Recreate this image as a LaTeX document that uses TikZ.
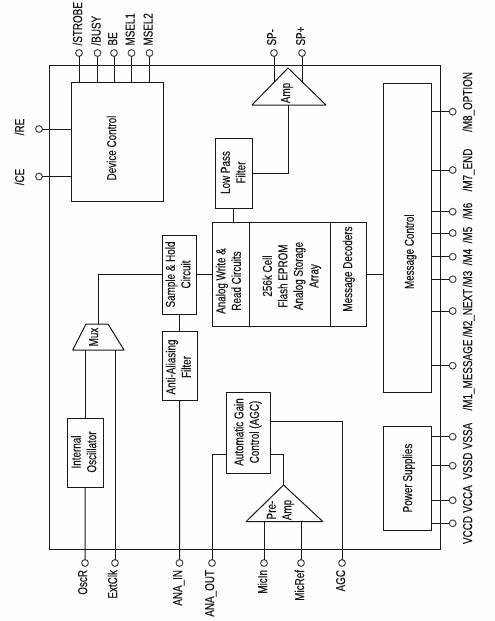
\documentclass[tikz,border=0pt]{standalone}
\usepackage{fontspec}
\setmainfont[FakeStretch=0.76,FakeBold=0.25]{Liberation Sans}
\definecolor{paper}{rgb}{0.996,0.996,0.98}
\definecolor{ink}{rgb}{0.1,0.1,0.1}
\tikzset{
  boxst/.style={draw=ink,line width=1pt,inner sep=0pt,outer sep=0pt,align=center},
  pin/.style={circle,draw=ink!80,line width=1pt,fill=paper,inner sep=0pt,minimum size=6.8pt,outer sep=0pt},
  wire/.style={draw=ink,line width=1pt},
  labelst/.style={inner sep=0pt,outer sep=0pt,text=ink},
}
\newcommand{\vtext}[1]{\rotatebox{90}{\fontsize{13}{15.5}\selectfont\begin{tabular}{@{}c@{}}#1\end{tabular}}}
\newcommand{\bx}[6][]{\node[boxst,minimum width={#4-#2},minimum height={#5-#3},#1] (#6) at ({(#2+#4)/2},{(#3+#5)/2}) {};}
\newcommand{\txt}[4]{\node[labelst] (#1) at (#2,#3) {\vtext{#4}};}
\newcommand{\pinat}[3]{\node[pin] (#1) at (#2,#3) {};}
\begin{document}
\begin{tikzpicture}[x=1pt,y=-1pt]
\useasboundingbox (0,0) rectangle (495,621);
\fill[paper] (0,0) rectangle (495,621);
% outer frame
\bx{49.5}{65}{440}{549}{frame}
% blocks
\bx{71}{82}{163}{201.5}{dc}
\bx{162}{235}{196}{314}{sh}
\bx{215}{138}{252}{208}{lpf}
\bx{212.5}{222.7}{366}{326.7}{array}
\coordinate (div1a) at (249.5,222.7); \coordinate (div1b) at (249.5,326.7);
\coordinate (div2a) at (330,222.7); \coordinate (div2b) at (330,326.7);
\draw[wire] (div1a) -- (div1b) (div2a) -- (div2b);
\bx{162}{331.5}{197.5}{400}{aa}
\bx{67.5}{418}{103}{487}{osc}
\bx{226}{392}{270}{473}{agc}
\bx{383}{83.5}{431.5}{392}{msg}
\bx{383}{426}{431.5}{530}{pwr}
% triangles and trapezoid
\coordinate (mt1) at (86,324); \coordinate (mt2) at (108,324); \coordinate (mb2) at (124,350); \coordinate (mb1) at (72.7,350);
\coordinate (mux) at (98,324);
\draw[wire,line join=round] (mt1) -- (mt2) -- (mb2) -- (mb1) -- cycle;
\coordinate (ampa) at (288,68); \coordinate (ampl) at (252,105); \coordinate (ampr) at (326,105);
\draw[wire,line join=round] (ampa) -- (ampr) -- (ampl) -- cycle;
\coordinate (pra) at (283.5,485); \coordinate (prl) at (246,521.7); \coordinate (prr) at (323,521.7);
\draw[wire,line join=round] (pra) -- (prr) -- (prl) -- cycle;
% pins top
\pinat{pstrobe}{79}{53}\pinat{pbusy}{97.5}{53}\pinat{pbe}{114}{53}\pinat{pm1}{131.5}{53}\pinat{pm2}{149.5}{53}
\pinat{pspm}{274}{53}\pinat{pspp}{302}{53}
\pinat{pre}{39}{129}\pinat{pce}{39}{176.5}
% pins bottom
\pinat{posc}{85}{563}\pinat{pext}{115}{563}\pinat{pain}{179.5}{563}\pinat{paout}{212}{563}
\pinat{pmic}{264}{563}\pinat{pref}{301}{563}\pinat{pagc}{342}{563}
% pins right
\pinat{p8}{452.7}{111.7}\pinat{p7}{452.7}{170}\pinat{p6}{452.7}{211.7}\pinat{p5}{452.7}{233}
\pinat{p4}{452.7}{256.7}\pinat{p3}{452.7}{279.3}\pinat{p2}{452.7}{311}\pinat{p1}{452.7}{365.7}
\pinat{vssa}{452.7}{436.7}\pinat{vssd}{452.7}{465.7}\pinat{vcca}{452.7}{500.3}\pinat{vccd}{452.7}{523.3}
% wires
\foreach \p in {pstrobe,pbusy,pbe,pm1,pm2} \draw[wire] (\p) -- (\p |- dc.north);
\foreach \p in {pre,pce} \draw[wire] (\p) -- (\p -| dc.west);
\foreach \p in {p8,p7,p6,p5,p4,p3,p2,p1} \draw[wire] (\p) -- (\p -| msg.east);
\foreach \p in {vssa,vssd,vcca,vccd} \draw[wire] (\p) -- (\p -| pwr.east);
\draw[wire] (pspm) -- (274,82.4);
\draw[wire] (pspp) -- (302,82.4);
\draw[wire] (ampa |- ampl) -- (ampa |- lpf.east) -- (lpf.east);
\draw[wire] (lpf.south) -- (lpf.south |- array.north);
\draw[wire] (sh.east) -- (sh.east -| array.west);
\draw[wire] (array.east) -- (array.east -| msg.west);
\draw[wire] (sh.west) -- (mux |- sh.west) -- (mux);
\draw[wire] (sh.south) -- (sh.south |- aa.north);
\draw[wire] (aa.south) -- (pain);
\draw[wire] (osc.north) -- (osc.north |- mb1);
\draw[wire] (osc.south) -- (posc);
\draw[wire] (pext) -- (pext |- mb1);
\coordinate (agcl) at (226,454); \coordinate (agcr) at (270,454); \coordinate (agco) at (270,421);
\draw[wire] (agcl) -- (agcl -| paout) -- (paout);
\draw[wire] (agcr) -- (agcr -| pra) -- (pra);
\draw[wire] (agco) -- (agco -| pagc) -- (pagc);
\draw[wire] (pmic) -- (pmic |- prl);
\draw[wire] (pref) -- (pref |- prl);
% block texts
\txt{tdc}{113}{148}{Device Control}
\txt{tsh}{179.5}{274.5}{Sample \& Hold\\Circuit}
\txt{tlpf}{234.5}{172.5}{Low Pass\\Filter}
\txt{trw}{230}{281}{Analog Write \&\\Read Circuits}
\txt{tarr}{292}{276}{256k Cell\\Flash EPROM\\Analog Storage\\Array}
\txt{tdec}{349}{269}{Message Decoders}
\txt{taa}{180}{367}{Anti-Aliasing\\Filter}
\txt{tosc}{85.3}{452}{Internal\\Oscillator}
\txt{tagc}{248}{432}{Automatic Gain\\Control (AGC)}
\txt{tmsg}{410.7}{251.7}{Message Control}
\txt{tpwr}{409}{478}{Power Supplies}
\txt{tmux}{95}{337}{Mux}
\txt{tamp}{287}{93}{Amp}
\txt{tpre}{280.5}{510}{Pre-\\Amp}
% pin labels
\node[labelst,anchor=south] (lstrobe) at (79,45.5) {\vtext{/STROBE}};
\node[labelst,anchor=south] (lbusy) at (97.5,45.5) {\vtext{/BUSY}};
\node[labelst,anchor=south] (lbe) at (114,45.5) {\vtext{BE}};
\node[labelst,anchor=south] (lm1) at (131.5,45.5) {\vtext{MSEL1}};
\node[labelst,anchor=south] (lm2) at (149.5,45.5) {\vtext{MSEL2}};
\node[labelst,anchor=south] (lspm) at (273,45.5) {\vtext{SP-}};
\node[labelst,anchor=south] (lspp) at (302,45.5) {\vtext{SP+}};
\txt{lre}{21}{127}{/RE}
\txt{lce}{21}{177}{/CE}
\node[labelst,anchor=north] (losc) at (84,570) {\vtext{OscR}};
\node[labelst,anchor=north] (lext) at (114,570) {\vtext{ExtClk}};
\node[labelst,anchor=north] (lain) at (179,570) {\vtext{ANA\_IN}};
\node[labelst,anchor=north] (laout) at (211,570) {\vtext{ANA\_OUT}};
\node[labelst,anchor=north] (lmic) at (264,570) {\vtext{MicIn}};
\node[labelst,anchor=north] (lref) at (301,570) {\vtext{MicRef}};
\node[labelst,anchor=north] (lagc) at (342,570) {\vtext{AGC}};
\txt{l8}{469}{102}{/M8\_OPTION}
\txt{l7}{469}{170}{/M7\_END}
\txt{l6}{469}{211}{/M6}
\txt{l5}{469}{235}{/M5}
\txt{l4}{469}{257}{/M4}
\txt{l3}{469}{279}{/M3}
\txt{l2}{469}{313}{/M2\_NEXT}
\txt{l1}{469}{375}{/M1\_MESSAGE}
\txt{lvssa}{469}{436}{VSSA}
\txt{lvssd}{469}{466}{VSSD}
\txt{lvcca}{469}{499}{VCCA}
\txt{lvccd}{469}{530}{VCCD}
\end{tikzpicture}
\end{document}
